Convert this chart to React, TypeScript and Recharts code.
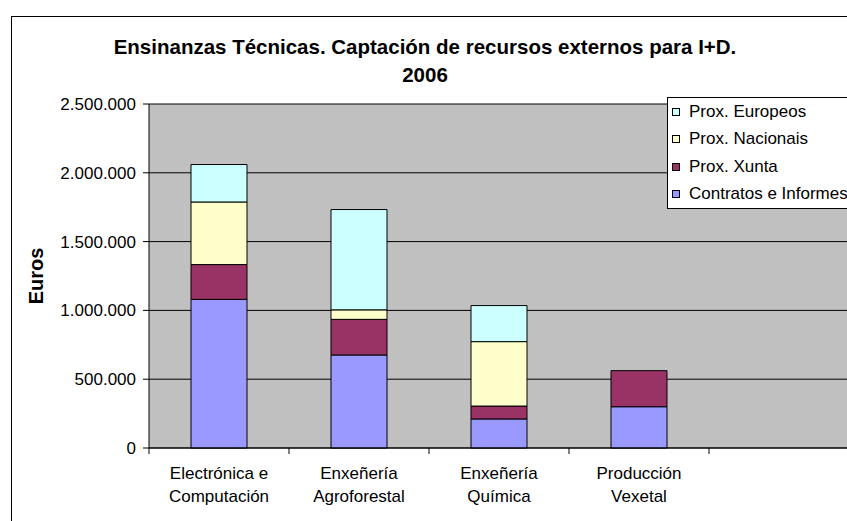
import React from 'react';
import { BarChart, Bar, XAxis, YAxis, CartesianGrid, Legend } from 'recharts';

// categories (two-line labels), last slot is the empty one Excel leaves at the right
const categories = [
  'Electrónica e\nComputación',
  'Enxeñería\nAgroforestal',
  'Enxeñería\nQuímica',
  'Producción\nVexetal',
  '',
];
const contratos = [1080000, 676000, 211000, 300000, 0];
const xunta = [253000, 259000, 94000, 262000, 0];
const nacionais = [455000, 69000, 468000, 0, 0];
const europeos = [272000, 729000, 262000, 0, 0];
const yTicks = [0, 500000, 1000000, 1500000, 2000000, 2500000];
const legendOrder = ['Prox. Europeos', 'Prox. Nacionais', 'Prox. Xunta', 'Contratos e Informes'];

const FONT = 'Arial, "Liberation Sans", sans-serif';

const data = categories.map((name, i) => ({
  name,
  contratos: contratos[i],
  xunta: xunta[i],
  nacionais: nacionais[i],
  europeos: europeos[i],
}));

const formatEuros = (v: number) => String(v).replace(/\B(?=(\d{3})+(?!\d))/g, '.');

// category label plus the Excel-style tick marks on the category boundaries
const CategoryTick = ({ x, y, payload, width, visibleTicksCount, index }: any) => {
  const lines = String(payload.value).split('\n');
  const half = payload.offset || width / visibleTicksCount / 2;
  const isLast = index === visibleTicksCount - 1;
  return (
    <g>
      <line x1={x - half} x2={x - half} y1={y} y2={y + 6} stroke="#000" />
      {isLast && <line x1={x + half} x2={x + half} y1={y} y2={y + 6} stroke="#000" />}
      <text x={x} y={y} textAnchor="middle" fontSize={17} fill="#000" fontFamily={FONT}>
        {lines.map((l, i) => (
          <tspan key={i} x={x} dy={i === 0 ? 31 : 23}>
            {l}
          </tspan>
        ))}
      </text>
    </g>
  );
};

const renderLegend = (props: any) => {
  const items = [...(props.payload || [])].sort(
    (a: any, b: any) => legendOrder.indexOf(a.value) - legendOrder.indexOf(b.value)
  );
  return (
    <div style={{ background: '#fff', border: '1px solid #000', width: 200, fontFamily: FONT }}>
      {items.map((it: any) => (
        <div key={it.value} style={{ display: 'flex', alignItems: 'center', height: 27.5, fontSize: 17 }}>
          <span
            style={{
              display: 'inline-block',
              width: 6,
              height: 6,
              marginLeft: 4,
              marginRight: 9,
              background: it.color,
              border: '1px solid #000',
            }}
          />
          <span>{it.value}</span>
        </div>
      ))}
    </div>
  );
};

const EurosLabel = ({ viewBox }: any) => (
  <text
    x={viewBox.x + 36}
    y={viewBox.y + viewBox.height / 2}
    transform={`rotate(-90, ${viewBox.x + 36}, ${viewBox.y + viewBox.height / 2})`}
    textAnchor="middle"
    dominantBaseline="central"
    fontSize={20}
    fontWeight="bold"
    fontFamily={FONT}
    fill="#000"
  >
    Euros
  </text>
);

export default function App() {
  return (
    <div
      style={{
        position: 'fixed',
        left: 0,
        top: 0,
        width: 847,
        height: 521,
        overflow: 'hidden',
        background: '#fff',
        fontFamily: FONT,
      }}
    >
      <div
        style={{
          position: 'absolute',
          left: 11,
          top: 16,
          width: 1000,
          height: 1000,
          border: '1px solid #000',
        }}
      />
      <div
        style={{
          position: 'absolute',
          left: 0,
          top: 33,
          width: 850,
          textAlign: 'center',
          fontSize: 20.5,
          fontWeight: 'bold',
          lineHeight: '28px',
        }}
      >
        Ensinanzas Técnicas. Captación de recursos externos para I+D.
        <br />
        2006
      </div>
      <div style={{ position: 'absolute', left: 0, top: 0 }}>
        <BarChart
          width={860}
          height={521}
          data={data}
          margin={{ top: 104, right: 11, left: 0, bottom: 0 }}
          barCategoryGap="30%"
        >
          <CartesianGrid vertical={false} stroke="#000" fill="#C0C0C0" fillOpacity={1} />
          <XAxis
            dataKey="name"
            axisLine={{ stroke: '#000' }}
            tickLine={false}
            tickSize={0}
            tickMargin={0}
            interval={0}
            height={73}
            tick={<CategoryTick />}
          />
          <YAxis
            width={149}
            domain={[0, 2500000]}
            ticks={yTicks}
            tickFormatter={formatEuros}
            axisLine={{ stroke: '#000' }}
            tickLine={{ stroke: '#000' }}
            tickSize={6}
            tickMargin={7}
            tick={{ fontSize: 17, fill: '#000', fontFamily: FONT }}
            label={<EurosLabel />}
          />
          <Legend
            layout="horizontal"
            verticalAlign="middle"
            align="center"
            content={renderLegend}
            wrapperStyle={{ left: 667, top: 97, width: 200 }}
          />
          <Bar dataKey="contratos" name="Contratos e Informes" stackId="a" fill="#9999FF" stroke="#000" isAnimationActive={false} />
          <Bar dataKey="xunta" name="Prox. Xunta" stackId="a" fill="#993366" stroke="#000" isAnimationActive={false} />
          <Bar dataKey="nacionais" name="Prox. Nacionais" stackId="a" fill="#FFFFCC" stroke="#000" isAnimationActive={false} />
          <Bar dataKey="europeos" name="Prox. Europeos" stackId="a" fill="#CCFFFF" stroke="#000" isAnimationActive={false} />
        </BarChart>
      </div>
    </div>
  );
}
